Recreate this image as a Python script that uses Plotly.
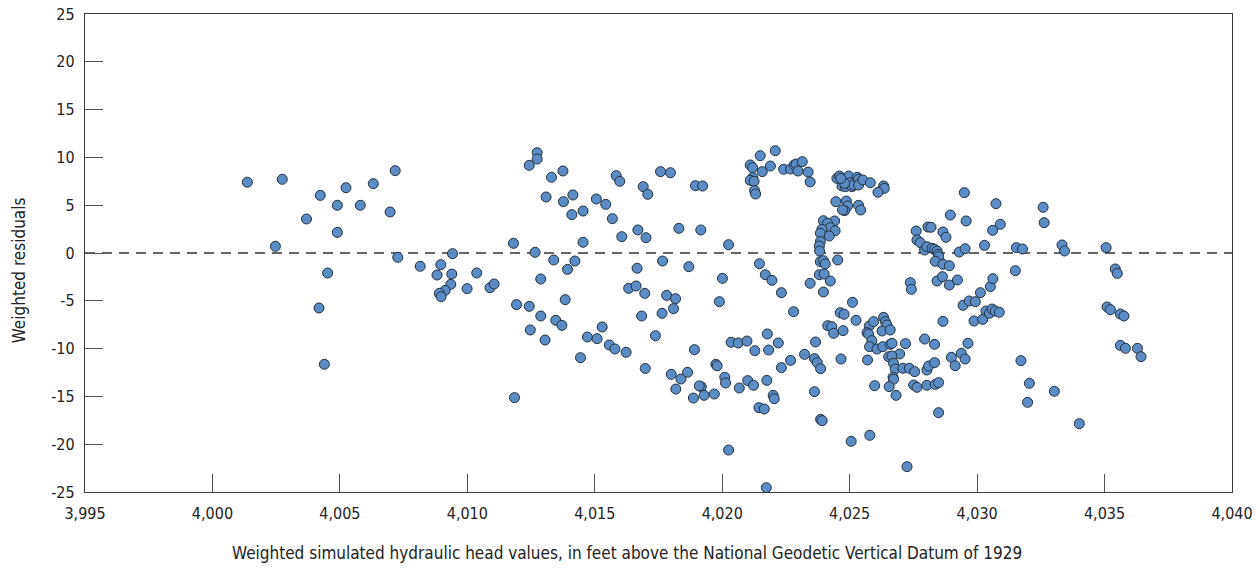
import plotly.graph_objects as go

# Weighted simulated hydraulic head (ft above NGVD 29) and weighted residual for each observation
head = [
    4001.37, 4002.74, 4002.47, 4003.69, 4004.23, 4004.90, 4004.90, 4005.24, 4005.80, 4006.31,
    4006.97, 4007.17, 4007.27, 4004.52, 4004.18, 4004.39,
    4008.15, 4008.96, 4008.81, 4009.39, 4009.42, 4009.35, 4009.13, 4008.90, 4008.97, 4009.99,
    4010.37, 4010.89, 4011.05, 4011.81, 4012.66, 4013.39, 4012.88, 4011.93, 4012.43, 4012.88,
    4013.47, 4013.71, 4012.47, 4013.05, 4011.85, 4012.74, 4012.74, 4012.43, 4013.30, 4013.75,
    4013.09, 4013.77,
    4014.14, 4014.10, 4014.54, 4014.54, 4015.06, 4015.43, 4015.69, 4015.84, 4015.98, 4016.06,
    4016.90, 4017.08, 4016.69, 4017.01, 4017.58, 4017.97, 4018.30, 4018.95, 4019.23, 4019.16,
    4020.25, 4014.22, 4013.93, 4016.66, 4017.66, 4018.69, 4020.01, 4013.84, 4016.33, 4016.62,
    4016.96, 4017.82, 4018.17, 4018.09, 4017.64, 4016.84, 4019.89, 4014.71, 4015.09, 4015.29,
    4015.57, 4015.79, 4016.23, 4014.44, 4017.38, 4016.98, 4018.91, 4018.00, 4018.38, 4018.64,
    4018.18, 4019.18, 4019.10, 4019.29, 4018.87, 4019.69, 4019.75, 4019.80, 4020.10, 4020.13,
    4020.25,
    4022.08, 4021.49, 4021.10, 4021.19, 4021.89, 4021.57, 4021.20, 4021.10, 4021.25, 4021.27,
    4021.31, 4022.41, 4022.68, 4022.83, 4022.90, 4023.14, 4022.97, 4023.37, 4023.45, 4021.46,
    4021.69, 4021.95, 4022.32, 4022.80, 4023.45, 4020.35, 4020.63, 4020.97, 4021.28, 4021.77,
    4021.82, 4022.20, 4022.32, 4022.68, 4023.23, 4023.62, 4023.73, 4023.86, 4023.66, 4020.67,
    4021.00, 4021.23, 4021.75, 4022.00, 4022.04, 4021.44, 4021.65, 4023.62, 4023.86, 4023.92,
    4021.73, 4025.06, 4024.66,
    4024.50, 4024.60, 4024.72, 4024.70, 4024.83, 4024.96, 4025.02, 4025.09, 4025.15, 4025.29,
    4025.35, 4025.35, 4025.52, 4025.81, 4024.80, 4024.65, 4026.33, 4026.36, 4026.11,
    4024.46, 4024.87, 4024.92, 4024.80, 4024.72, 4025.35, 4025.43,
    4023.97, 4024.41, 4024.13, 4024.24, 4024.43, 4023.91, 4023.85, 4024.20, 4023.85, 4023.81,
    4023.82, 4023.85, 4023.97, 4024.04, 4024.53, 4023.81, 4024.00, 4024.24, 4023.97, 4025.11,
    4024.63, 4024.78, 4025.25, 4024.14, 4024.30, 4024.37, 4024.74, 4025.77, 4025.94, 4025.68,
    4026.33, 4026.40, 4026.46, 4026.27, 4026.59,
    4025.74, 4025.87, 4025.78, 4026.07, 4026.30, 4026.59, 4026.66, 4026.96, 4026.53, 4026.66,
    4026.72, 4026.79, 4026.70, 4026.72, 4026.55, 4026.82, 4025.98, 4025.70, 4025.79,
    4029.50, 4030.74, 4028.95, 4029.57, 4030.61, 4030.91, 4030.29,
    4027.61, 4027.64, 4027.77, 4028.07, 4028.19, 4028.66, 4028.78, 4027.94, 4028.03, 4028.23,
    4028.33, 4028.43, 4028.47, 4028.49, 4029.30, 4029.53, 4028.36, 4028.66, 4028.91, 4027.38,
    4027.42, 4028.43, 4028.64, 4028.91, 4029.23, 4028.66, 4029.45, 4029.69, 4029.93, 4030.13,
    4030.52, 4030.62, 4029.88, 4030.22, 4030.35, 4030.48, 4030.59, 4030.71, 4030.87, 4027.94,
    4028.33, 4027.19, 4027.09, 4027.34, 4027.55, 4027.51, 4027.64, 4028.03, 4028.36, 4028.49,
    4028.03, 4028.10, 4028.33, 4028.49, 4028.99, 4029.14, 4029.38, 4029.53, 4029.64, 4027.25,
    4032.59, 4032.63, 4031.54, 4031.78, 4033.33, 4033.43, 4035.06, 4031.50, 4035.42, 4035.50,
    4035.10, 4035.23, 4035.62, 4035.76, 4035.62, 4035.82, 4036.29, 4036.43, 4031.72, 4032.05,
    4031.98, 4033.03, 4034.01,
]

residual = [
    7.40, 7.71, 0.70, 3.56, 6.03, 4.99, 2.16, 6.83, 4.99, 7.25,
    4.29, 8.61, -0.45, -2.09, -5.75, -11.64,
    -1.39, -1.22, -2.30, -2.20, -0.07, -3.28, -3.91, -4.22, -4.57, -3.73,
    -2.09, -3.63, -3.24, 1.01, 0.07, -0.73, -2.72, -5.40, -5.58, -6.59,
    -7.04, -7.57, -8.05, -9.10, -15.13, 10.49, 9.83, 9.17, 7.92, 8.58,
    5.86, 5.37,
    6.07, 4.01, 4.39, 1.12, 5.65, 5.09, 3.59, 8.09, 7.50, 1.71,
    6.94, 6.14, 2.41, 1.60, 8.51, 8.40, 2.58, 7.04, 7.01, 2.41,
    0.87, -0.84, -1.71, -1.60, -0.84, -1.43, -2.65, -4.88, -3.70, -3.45,
    -4.22, -4.43, -4.78, -5.82, -6.31, -6.59, -5.09, -8.79, -8.96, -7.74,
    -9.62, -10.04, -10.39, -10.95, -8.65, -12.08, -10.11, -12.69, -13.18, -12.48,
    -14.23, -13.99, -13.90, -14.89, -15.17, -14.75, -11.64, -11.80, -13.00, -13.60,
    -20.61,
    10.70, 10.18, 9.21, 8.92, 9.10, 8.51, 7.90, 7.60, 7.50, 6.52,
    6.17, 8.76, 8.79, 9.21, 9.31, 9.55, 8.58, 8.47, 7.43, -1.12,
    -2.27, -2.86, -4.15, -6.14, -3.17, -9.34, -9.41, -9.21, -10.22, -8.47,
    -10.15, -9.41, -11.99, -11.23, -10.60, -11.05, -11.47, -12.10, -9.31, -14.12,
    -13.35, -13.84, -13.32, -14.89, -15.24, -16.18, -16.32, -14.51, -17.40, -17.54,
    -24.55, -19.70, -11.09,
    7.81, 8.05, 7.56, 7.01, 6.94, 8.05, 7.35, 6.94, 7.11, 7.92,
    7.71, 7.11, 7.64, 7.35, 7.29, 7.80, 7.01, 6.76, 6.35,
    5.37, 5.44, 4.92, 4.43, 4.50, 4.99, 4.50,
    3.38, 3.35, 3.10, 2.65, 2.33, 2.48, 2.06, 1.78, 1.19, 0.73,
    0.21, -0.91, -0.80, -1.15, -0.73, -2.27, -2.20, -2.93, -4.08, -5.16,
    -6.24, -6.41, -7.04, -7.60, -7.71, -8.40, -8.12, -7.64, -7.18, -8.33,
    -6.73, -7.18, -7.53, -8.16, -8.05,
    -8.47, -9.17, -9.80, -10.04, -9.80, -9.55, -9.45, -10.56, -10.85, -10.77,
    -11.54, -12.13, -13.00, -13.21, -13.98, -14.89, -13.88, -11.19, -19.07,
    6.31, 5.16, 3.97, 3.35, 2.37, 3.00, 0.80,
    2.30, 1.36, 1.08, 2.72, 2.69, 2.20, 1.64, 0.31, 0.66, 0.49,
    0.39, 0.21, -0.14, -0.39, 0.10, 0.45, -0.87, -1.18, -1.33, -3.10,
    -3.80, -2.93, -2.48, -3.35, -2.82, -7.15, -5.47, -5.02, -5.09, -4.15,
    -3.52, -2.69, -7.11, -6.94, -6.07, -6.31, -5.86, -6.07, -6.20, -9.00,
    -9.55, -9.48, -12.06, -12.06, -12.41, -13.81, -14.05, -13.84, -13.74, -13.56,
    -12.24, -11.82, -11.47, -16.70, -10.91, -11.79, -10.49, -11.09, -9.45, -22.35,
    4.78, 3.17, 0.56, 0.42, 0.84, 0.21, 0.56, -1.85, -1.67, -2.13,
    -5.65, -5.93, -6.38, -6.59, -9.66, -9.97, -9.97, -10.84, -11.26, -13.63,
    -15.62, -14.47, -17.85,
]

x_ticks = [3995, 4000, 4005, 4010, 4015, 4020, 4025, 4030, 4035, 4040]
x_tick_text = ["3,995", "4,000", "4,005", "4,010", "4,015", "4,020", "4,025", "4,030", "4,035", "4,040"]
y_ticks = [-25, -20, -15, -10, -5, 0, 5, 10, 15, 20, 25]
y_tick_text = ["-25", "-20", "-15", "-10", "-5", "0", "5", "10", "15", "20", "25"]

x_title = "Weighted simulated hydraulic head values, in feet above the National Geodetic Vertical Datum of 1929"
y_title = "Weighted residuals"

FONT = "Liberation Sans Narrow, DejaVu Sans Condensed, Arial Narrow, sans-serif"
AXIS_COLOR = "#3a3a3a"
TEXT_COLOR = "#222222"

fig = go.Figure()

fig.add_trace(go.Scatter(
    x=head,
    y=residual,
    mode="markers",
    marker=dict(size=10, color="#5b8cc6", line=dict(color="#22303f", width=1)),
    hoverinfo="x+y",
    showlegend=False,
))

# zero-residual reference line
fig.add_hline(y=0, line=dict(color="#333333", width=1.3, dash="10px,7px"), layer="below")

axis_common = dict(
    showgrid=False,
    zeroline=False,
    showline=True,
    linecolor=AXIS_COLOR,
    linewidth=1.3,
    mirror=True,
    ticks="inside",
    ticklen=18,
    tickwidth=1.3,
    tickcolor="#555555",
    tickfont=dict(family=FONT, size=16, color=TEXT_COLOR),
    automargin=False,
)

fig.update_xaxes(range=[3995, 4040], tickvals=x_ticks, ticktext=x_tick_text,
                 ticklabelstandoff=7, **axis_common)
fig.update_yaxes(range=[-25, 25], tickvals=y_ticks, ticktext=y_tick_text,
                 ticklabelstandoff=6, **axis_common)

# axis titles, centred on the page rather than on the plotting area
fig.add_annotation(text=x_title, xref="paper", yref="paper", x=0.4725, y=-0.1276,
                   xanchor="center", yanchor="middle", showarrow=False,
                   font=dict(family=FONT, size=17, color=TEXT_COLOR))
fig.add_annotation(text=y_title, xref="paper", yref="paper", x=-0.0575, y=0.464,
                   xanchor="center", yanchor="middle", textangle=-90, showarrow=False,
                   font=dict(family=FONT, size=17, color=TEXT_COLOR))

fig.update_layout(
    width=1257,
    height=568,
    margin=dict(l=85, r=25, t=14, b=76),
    paper_bgcolor="white",
    plot_bgcolor="white",
    font=dict(family=FONT),
)

fig.write_html("out.html")
